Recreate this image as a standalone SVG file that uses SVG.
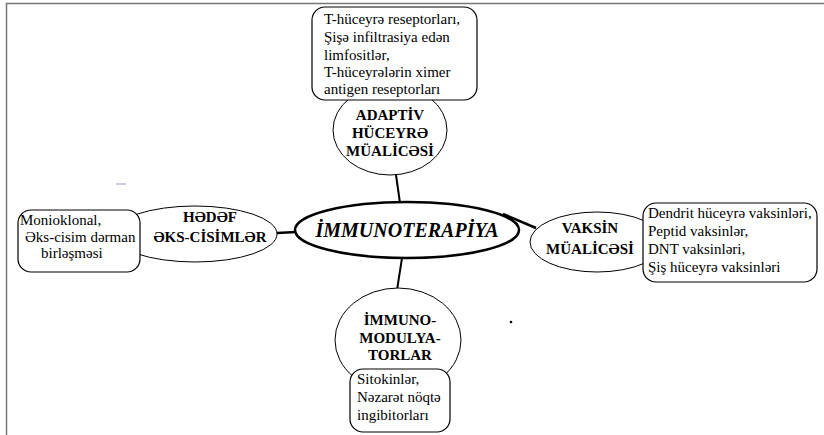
<svg xmlns="http://www.w3.org/2000/svg" width="824" height="435" viewBox="0 0 824 435">
<style>
.ell{fill:#fff;stroke:#000;stroke-width:1}
.box{fill:#fff;stroke:#000;stroke-width:1.2}
.lbl{font-family:"Liberation Serif",serif;font-weight:bold;font-size:15px;fill:#000;text-anchor:middle}
.txt{font-family:"Liberation Serif",serif;font-size:15px;fill:#000}
.con{stroke:#000;stroke-width:2;fill:none}
</style>
<rect width="824" height="435" fill="#fff"/>
<path d="M6.5 435 V3.5 H824" fill="none" stroke="#777" stroke-width="1.5"/>
<rect x="116" y="183" width="10" height="2" fill="#c8cce0"/>
<circle cx="511" cy="322" r="1.3" fill="#000"/>
<g id="connectors">
<line class="con" x1="396" y1="175" x2="400" y2="203"/>
<line class="con" x1="402" y1="258" x2="397" y2="290"/>
<line class="con" x1="277" y1="233" x2="296" y2="232" style="stroke-width:2.5"/>
<line class="con" x1="503" y1="214" x2="536" y2="228" style="stroke-width:2.5"/>
</g>
<g id="center">
<ellipse cx="407" cy="230" rx="112" ry="28" fill="#fff" stroke="#000" stroke-width="2.5"/>
<text x="407" y="237" style="font-family:'Liberation Serif',serif;font-weight:bold;font-style:italic;font-size:20px;text-anchor:middle">İMMUNOTERAPİYA</text>
</g>
<g id="adaptiv">
<ellipse class="ell" cx="390" cy="130" rx="57" ry="45"/>
<text class="lbl" x="390" y="120">ADAPTİV</text>
<text class="lbl" x="390" y="138">HÜCEYRƏ</text>
<text class="lbl" x="390" y="156">MÜALİCƏSİ</text>
</g>
<g id="adaptiv-box">
<rect class="box" x="312" y="7" width="165" height="93" rx="13"/>
<text class="txt" x="324" y="24">T-hüceyrə reseptorları,</text>
<text class="txt" x="324" y="42">Şişə infiltrasiya edən</text>
<text class="txt" x="324" y="60">limfositlər,</text>
<text class="txt" x="324" y="77">T-hüceyrələrin ximer</text>
<text class="txt" x="324" y="94">antigen reseptorları</text>
</g>
<g id="hedef">
<ellipse class="ell" cx="195" cy="234" rx="82" ry="28"/>
<text class="lbl" x="210" y="222">HƏDƏF</text>
<text class="lbl" x="210" y="242">ƏKS-CİSİMLƏR</text>
</g>
<g id="hedef-box">
<rect class="box" x="18" y="210" width="122" height="62" rx="13"/>
<text class="txt" x="20" y="225">Monioklonal,</text>
<text class="txt" x="25" y="242">Əks-cisim dərman</text>
<text class="txt" x="41" y="258">birləşməsi</text>
</g>
<g id="vaksin">
<ellipse class="ell" cx="597" cy="242" rx="67" ry="30"/>
<text class="lbl" x="590" y="233">VAKSİN</text>
<text class="lbl" x="590" y="254">MÜALİCƏSİ</text>
</g>
<g id="vaksin-box">
<rect class="box" x="643" y="203" width="174" height="79" rx="13"/>
<text class="txt" x="648" y="218">Dendrit hüceyrə vaksinləri,</text>
<text class="txt" x="648" y="236">Peptid vaksinlər,</text>
<text class="txt" x="648" y="254">DNT vaksinləri,</text>
<text class="txt" x="648" y="272">Şiş hüceyrə vaksinləri</text>
</g>
<g id="immunomodulyator">
<ellipse class="ell" cx="398" cy="340" rx="63" ry="52"/>
<text class="lbl" x="400" y="325">İMMUNO-</text>
<text class="lbl" x="400" y="343">MODULYA-</text>
<text class="lbl" x="400" y="360">TORLAR</text>
</g>
<g id="immunomodulyator-box">
<rect class="box" x="350" y="369" width="100" height="63" rx="13"/>
<text class="txt" x="357" y="384">Sitokinlər,</text>
<text class="txt" x="357" y="402">Nəzarət nöqtə</text>
<text class="txt" x="357" y="420">ingibitorları</text>
</g>
</svg>
